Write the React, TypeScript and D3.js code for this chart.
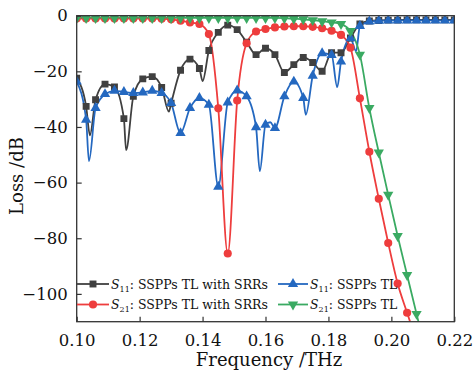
import React, { useEffect, useRef } from 'react';
import * as d3 from 'd3';

// Marker frequencies (THz)
const freq = [0.100, 0.103, 0.106, 0.109, 0.112, 0.115, 0.118, 0.121, 0.124, 0.127, 0.130, 0.133, 0.136, 0.139, 0.142, 0.145, 0.148, 0.151, 0.154, 0.157, 0.160, 0.163, 0.166, 0.169, 0.172, 0.175, 0.178, 0.181, 0.184, 0.187, 0.190, 0.193, 0.196, 0.199, 0.202, 0.205, 0.208, 0.211, 0.214, 0.217, 0.220];

// S11: SSPPs TL with SRRs
const s11Srr = [-22.5, -32.6, -30.2, -24.6, -25.6, -37, -29, -22.7, -21.9, -25.8, -31.5, -19.6, -15.6, -19, -12.5, -6, -3.4, -5, -9.5, -14, -11.7, -14, -20.4, -17.6, -15, -16.8, -20, -13.3, -13.3, -8, -3, -1.9, -1.7, -1.6, -1.6, -1.5, -1.5, -1.5, -1.5, -1.5, -1.5];
const s11SrrDips = [[0.1042, -43], [0.1157, -48.3], [0.1293, -34.5], [0.1400, -23.5]];

// S21: SSPPs TL with SRRs
const s21Srr = [-1, -1, -1, -1, -1, -1, -1, -1, -1, -1.1, -1.3, -1.8, -2.4, -3, -6.6, -33.3, -85.5, -30.5, -9.9, -5.7, -4.8, -4.2, -3.9, -3.8, -3.8, -4, -4.5, -5.4, -6.9, -11.5, -29.7, -48.9, -65.8, -81.7, -96.3, -106.8, -117];
const s21SrrDips: number[][] = [];

// S11: SSPPs TL
const s11Tl = [-23.7, -37.4, -33.2, -28.2, -27, -27.4, -27.8, -27.6, -27, -27.8, -31.4, -42.2, -33.2, -29.6, -32, -61.5, -31.2, -26.9, -29, -40.1, -39.2, -40.4, -29, -23.7, -29.6, -21.6, -13.5, -14.1, -16.5, -8.1, -3.7, -2.1, -1.8, -1.7, -1.7, -1.7, -1.7, -1.7, -1.7, -1.7, -1.7];
const s11TlDips = [[0.1039, -52.3], [0.1582, -55.9], [0.1615, -38.3], [0.1728, -35.6], [0.1828, -25.7], [0.1888, -12.8]];

// S21: SSPPs TL
const s21Tl = [-0.8, -0.8, -0.8, -0.8, -0.8, -0.8, -0.8, -0.8, -0.8, -0.8, -0.8, -0.8, -0.8, -0.8, -0.8, -0.8, -0.8, -0.8, -0.8, -0.8, -0.8, -0.8, -0.9, -1.1, -1.3, -1.6, -2, -2.4, -3, -5.5, -14, -33.2, -49.2, -64.4, -79.2, -93.2, -107.2, -121];
const s21TlDips: number[][] = [];

const xTicks = [0.10, 0.12, 0.14, 0.16, 0.18, 0.20, 0.22];
const yTicks = [0, -20, -40, -60, -80, -100];

const series = [
  { key: 's11srr', label: ': SSPPs TL with SRRs', sub: '11', values: s11Srr, dips: s11SrrDips, color: '#404040', symbol: d3.symbolSquare, size: 48, rotate: 0 },
  { key: 's11tl', label: ': SSPPs TL', sub: '11', values: s11Tl, dips: s11TlDips, color: '#2468c0', symbol: d3.symbolTriangle, size: 46, rotate: 0 },
  { key: 's21srr', label: ': SSPPs TL with SRRs', sub: '21', values: s21Srr, dips: s21SrrDips, color: '#ee3d3d', symbol: d3.symbolCircle, size: 52, rotate: 0 },
  { key: 's21tl', label: ': SSPPs TL', sub: '21', values: s21Tl, dips: s21TlDips, color: '#3aaa62', symbol: d3.symbolTriangle, size: 46, rotate: 180 },
];

const W = 474, H = 375;
const M = { left: 76.7, right: 454.3, top: 15.7, bottom: 321.7 };
const FONT = '"DejaVu Serif", serif';

export default function App() {
  const ref = useRef<SVGSVGElement>(null);
  useEffect(() => {
    const svg = d3.select(ref.current);
    svg.selectAll('*').remove();
    const x = d3.scaleLinear().domain([0.10, 0.22]).range([M.left, M.right]);
    const y = d3.scaleLinear().domain([-110, 0]).range([M.bottom, M.top]);

    svg.append('defs').append('clipPath').attr('id', 'plotclip')
      .append('rect').attr('x', M.left).attr('y', M.top)
      .attr('width', M.right - M.left).attr('height', M.bottom - M.top);

    const g = svg.append('g').attr('clip-path', 'url(#plotclip)');
    const line = d3.line<number[]>().x(d => x(d[0])).y(d => y(d[1])).curve(d3.curveMonotoneX);

    series.forEach(s => {
      const pts = s.values.map((v, i) => [freq[i], v]).concat(s.dips).sort((a, b) => a[0] - b[0]);
      g.append('path').attr('d', line(pts) as string).attr('fill', 'none')
        .attr('stroke', s.color).attr('stroke-width', 1.8);
    });
    series.forEach(s => {
      const sym = d3.symbol().type(s.symbol).size(s.size);
      g.selectAll(null).data(s.values.map((v, i) => [freq[i], v])).enter().append('path')
        .attr('d', sym() as string)
        .attr('transform', d => `translate(${x(d[0])},${y(d[1])}) rotate(${s.rotate})`)
        .attr('fill', s.color);
    });

    // axes
    const xa = svg.append('g').attr('transform', `translate(0,${M.bottom})`)
      .call(d3.axisBottom(x).tickValues(xTicks).tickSize(-5).tickPadding(13).tickFormat(d3.format('.2f')));
    const ya = svg.append('g').attr('transform', `translate(${M.left},0)`)
      .call(d3.axisLeft(y).tickValues(yTicks).tickSize(-5).tickPadding(9).tickFormat(d3.format('d')));
    [xa, ya].forEach(a => {
      a.select('.domain').remove();
      a.selectAll('line').attr('stroke', '#333').attr('stroke-width', 1.2);
      a.selectAll('text').attr('font-family', FONT).attr('font-size', 16.5).attr('fill', '#111');
    });

    svg.append('rect').attr('x', M.left).attr('y', M.top)
      .attr('width', M.right - M.left).attr('height', M.bottom - M.top)
      .attr('fill', 'none').attr('stroke', '#333').attr('stroke-width', 1.3);

    // titles
    svg.append('text').attr('x', 269).attr('y', 366).attr('text-anchor', 'middle')
      .attr('font-family', FONT).attr('font-size', 18).attr('fill', '#111').text('Frequency /THz');
    svg.append('text').attr('transform', 'translate(23,176) rotate(-90)').attr('text-anchor', 'middle')
      .attr('font-family', FONT).attr('font-size', 18).attr('fill', '#111').text('Loss /dB');

    // legend
    const legendPos = [
      { x0: 77, x1: 109, tx: 111, y: 284 },
      { x0: 278, x1: 308, tx: 310, y: 284 },
      { x0: 77, x1: 109, tx: 111, y: 304.5 },
      { x0: 278, x1: 308, tx: 310, y: 304.5 },
    ];
    series.forEach((s, i) => {
      const p = legendPos[i];
      const lg = svg.append('g');
      lg.append('line').attr('x1', p.x0).attr('x2', p.x1).attr('y1', p.y).attr('y2', p.y)
        .attr('stroke', s.color).attr('stroke-width', 1.8);
      lg.append('path').attr('d', d3.symbol().type(s.symbol).size(s.size)() as string)
        .attr('transform', `translate(${(p.x0 + p.x1) / 2},${p.y}) rotate(${s.rotate})`).attr('fill', s.color);
      const t = lg.append('text').attr('x', p.tx).attr('y', p.y + 4.5)
        .attr('font-family', FONT).attr('font-size', 12.5).attr('fill', '#111');
      t.append('tspan').attr('font-style', 'italic').text('S');
      t.append('tspan').attr('font-size', 8).attr('dy', 3).text(s.sub);
      t.append('tspan').attr('dy', -3).text(s.label);
    });
  }, []);
  return (
    <svg ref={ref} width={W} height={H} style={{ position: 'absolute', left: 0, top: 0, background: '#fff' }} />
  );
}
